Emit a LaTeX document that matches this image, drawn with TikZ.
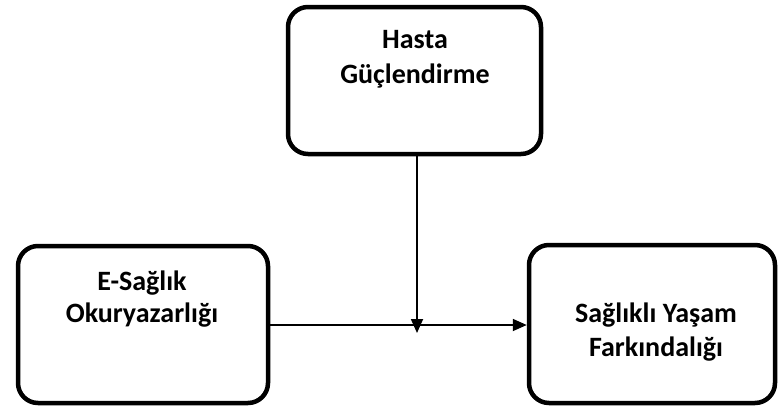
\documentclass[tikz,border=0pt]{standalone}
\usepackage{fontspec}
\setmainfont{Carlito}
\usetikzlibrary{arrows.meta}
\tikzset{
  box/.style={draw=black, line width=4.5pt, rounded corners=20pt, fill=white, inner sep=0pt},
  lbl/.style={font=\fontsize{28}{34}\selectfont\bfseries, anchor=base, inner sep=0pt},
  conn/.style={draw=black, line width=1.8pt, -{Triangle[length=14pt,width=12pt]}}
}
\begin{document}
\begin{tikzpicture}[x=1pt,y=-1pt]
\useasboundingbox (0,0) rectangle (780,416);
\fill[white] (0,0) rectangle (780,416);
% boxes
\node[box, minimum width=253pt, minimum height=147pt] (top) at (414.5,80.5) {};
\node[box, minimum width=250pt, minimum height=157pt] (left) at (143,324.5) {};
\node[box, minimum width=246pt, minimum height=158pt] (right) at (652,324) {};
% texts
\node[lbl] (t1) at (415,48) {Hasta};
\node[lbl] (t2) at (415,83) {Güçlendirme};
\node[lbl] (l1) at (142,290) {E-Sağlık};
\node[lbl] (l2) at (142,322) {Okuryazarlığı};
\node[lbl] (r1) at (656,322) {Sağlıklı Yaşam};
\node[lbl] (r2) at (656,356) {Farkındalığı};
% connectors
\coordinate (hy) at (0,325);
\coordinate (m) at (417,333);
\draw[conn] (left.east |- hy) -- (right.west |- hy);
\draw[conn] (m |- top.south) -- (m);
\end{tikzpicture}
\end{document}
